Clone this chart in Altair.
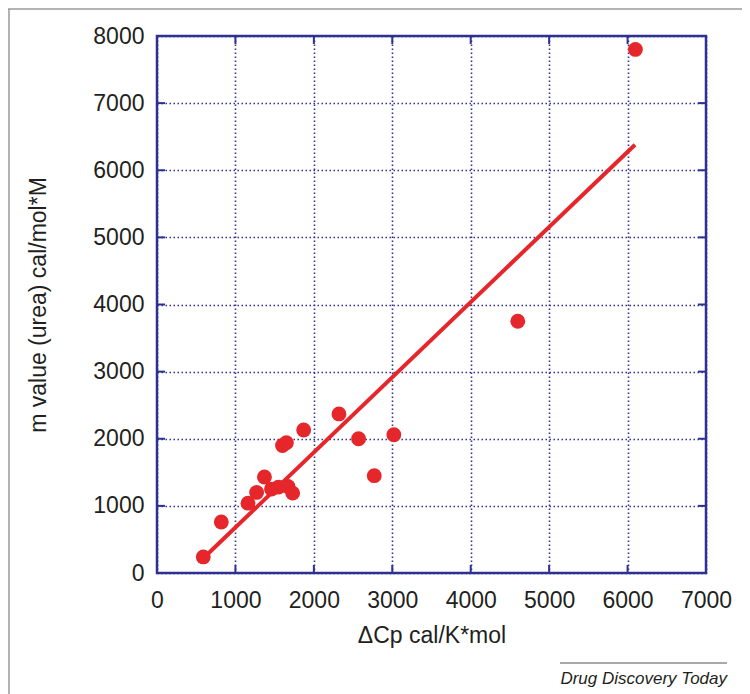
import altair as alt
import pandas as pd

# Data
dcp = [590, 820, 1160, 1270, 1370, 1460, 1550, 1670, 1730, 1600, 1650, 1870,
       2320, 2570, 2770, 3020, 4600, 6100]
m_value = [240, 760, 1040, 1200, 1430, 1250, 1280, 1290, 1190, 1900, 1940, 2130,
           2370, 2000, 1450, 2060, 3750, 7800]

fit_x = [590, 6095]
fit_y = [220, 6380]

x_ticks = [1000, 2000, 3000, 4000, 5000, 6000]
y_ticks = [1000, 2000, 3000, 4000, 5000, 6000, 7000]

X_MAX, Y_MAX = 7000, 8000
W, H = 549, 537
TICK_PX = 8
tx = X_MAX * TICK_PX / W
ty = Y_MAX * TICK_PX / H

BLUE = "#2e3192"
RED = "#e5262b"
FONT = "Liberation Sans"

pts = pd.DataFrame({"x": dcp, "y": m_value})
fit = pd.DataFrame({"x": fit_x, "y": fit_y})

xs = alt.Scale(domain=[0, X_MAX], nice=False, zero=False)
ys = alt.Scale(domain=[0, Y_MAX], nice=False, zero=False)

x_axis = alt.Axis(
    title="ΔCp cal/K*mol", values=list(range(0, 7001, 1000)), format="d",
    grid=True, gridDash=[1.5, 2.5], gridColor=BLUE, gridWidth=1.6, gridOpacity=1,
    domain=False, ticks=False, tickSize=0, labelPadding=16, titlePadding=12,
)
y_axis = alt.Axis(
    title="m value (urea) cal/mol*M", values=list(range(0, 8001, 1000)), format="d",
    grid=True, gridDash=[1.5, 2.5], gridColor=BLUE, gridWidth=1.6, gridOpacity=1,
    domain=False, ticks=False, tickSize=0, labelPadding=13, titlePadding=42,
)

base_grid = alt.Chart(pts).mark_point(opacity=0).encode(
    x=alt.X("x:Q", scale=xs, axis=x_axis),
    y=alt.Y("y:Q", scale=ys, axis=y_axis),
)

xt = pd.DataFrame({"v": x_ticks})
yt = pd.DataFrame({"v": y_ticks})

bottom_ticks = alt.Chart(xt).mark_rule(color=BLUE, strokeWidth=2).encode(
    x="v:Q", y=alt.datum(0), y2=alt.datum(ty))
top_ticks = alt.Chart(xt).mark_rule(color=BLUE, strokeWidth=2).encode(
    x="v:Q", y=alt.datum(Y_MAX), y2=alt.datum(Y_MAX - ty))
left_ticks = alt.Chart(yt).mark_rule(color=BLUE, strokeWidth=2).encode(
    y="v:Q", x=alt.datum(0), x2=alt.datum(tx))
right_ticks = alt.Chart(yt).mark_rule(color=BLUE, strokeWidth=2).encode(
    y="v:Q", x=alt.datum(X_MAX), x2=alt.datum(X_MAX - tx))

line = alt.Chart(fit).mark_line(color=RED, strokeWidth=4).encode(x="x:Q", y="y:Q")
points = alt.Chart(pts).mark_circle(color=RED, size=220, opacity=1).encode(x="x:Q", y="y:Q")

deco = pd.DataFrame({"k": [0]})
frame_left = alt.Chart(deco).mark_rule(color="#9a9a9a", strokeWidth=1.5).encode(
    x=alt.value(-148), y=alt.value(-27), y2=alt.value(700))
frame_top = alt.Chart(deco).mark_rule(color="#9a9a9a", strokeWidth=1.5).encode(
    x=alt.value(-151), x2=alt.value(600), y=alt.value(-27))
footer_rule = alt.Chart(deco).mark_rule(color="#555555", strokeWidth=1).encode(
    x=alt.value(403), x2=alt.value(570), y=alt.value(627))
footer_text = alt.Chart(deco).mark_text(
    text="Drug Discovery Today", font=FONT, fontSize=17, fontStyle="italic",
    align="right", baseline="alphabetic", color="#231f20").encode(
    x=alt.value(570), y=alt.value(648))

chart = alt.layer(
    base_grid, bottom_ticks, top_ticks, left_ticks, right_ticks, line, points,
    frame_left, frame_top, footer_rule, footer_text,
).properties(
    width=W, height=H,
    autosize=alt.AutoSizeParams(type="none"),
    padding={"left": 149, "top": 28, "right": 36, "bottom": 121},
).configure_view(
    stroke=BLUE, strokeWidth=2.5,
).configure_axis(
    labelFont=FONT, titleFont=FONT, labelFontSize=23, titleFontSize=23,
    labelColor="#231f20", titleColor="#231f20", titleFontWeight="normal",
    labelFlush=False, labelOverlap=False,
)

chart.save("out.html", embed_options={"renderer": "svg", "actions": False})
